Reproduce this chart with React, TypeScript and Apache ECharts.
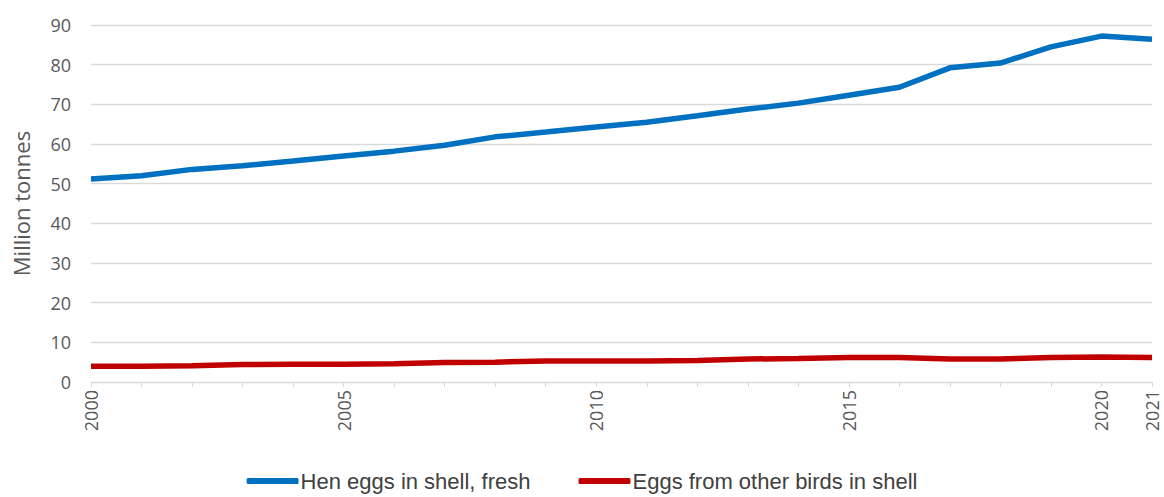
import React, { useEffect, useRef } from "react";
import * as echarts from "echarts";

const years = ["2000","2001","2002","2003","2004","2005","2006","2007","2008","2009","2010","2011","2012","2013","2014","2015","2016","2017","2018","2019","2020","2021"];
const henEggs = [51.2, 52.0, 53.6, 54.5, 55.7, 57.0, 58.2, 59.7, 61.8, 63.0, 64.3, 65.5, 67.1, 68.8, 70.3, 72.3, 74.3, 79.2, 80.4, 84.5, 87.2, 86.4];
const otherEggs = [4.0, 4.0, 4.1, 4.4, 4.5, 4.5, 4.6, 4.9, 5.0, 5.3, 5.3, 5.3, 5.4, 5.8, 5.9, 6.2, 6.2, 5.8, 5.8, 6.2, 6.3, 6.2];
const seriesNames = ["Hen eggs in shell, fresh", "Eggs from other birds in shell"];
const yTicks = { min: 0, max: 90, interval: 10 };

export default function App() {
  const ref = useRef<HTMLDivElement>(null);
  useEffect(() => {
    if (!ref.current) return;
    const chart = echarts.init(ref.current, undefined, { renderer: "svg" });
    const font = "Open Sans, sans-serif";
    chart.setOption({
      animation: false,
      grid: { left: 91, right: 12, top: 25, bottom: 115, containLabel: false },
      legend: {
        bottom: 0,
        left: "center",
        itemWidth: 52,
        itemHeight: 6,
        itemGap: 48,
        icon: "roundRect",
        textStyle: { fontFamily: "Liberation Sans Narrow, sans-serif", fontSize: 22, color: "#404040", padding: [0, 0, 0, -3] },
        data: seriesNames,
      },
      xAxis: {
        type: "category",
        data: years,
        boundaryGap: false,
        axisLine: { lineStyle: { color: "#d9d9d9", width: 1 } },
        axisTick: { show: true, interval: 0, length: 5, lineStyle: { color: "#d9d9d9" } },
        axisLabel: {
          rotate: 90,
          margin: 8,
          fontFamily: font,
          fontSize: 18,
          color: "#595959",
          interval: (idx: number, val: string) => Number(val) % 5 === 0 || idx === years.length - 1,
        },
        splitLine: { show: false },
      },
      yAxis: {
        type: "value",
        min: yTicks.min,
        max: yTicks.max,
        interval: yTicks.interval,
        name: "Million tonnes",
        nameLocation: "middle",
        nameRotate: 90,
        nameGap: 59,
        nameTextStyle: { fontFamily: font, fontSize: 22, color: "#595959" },
        axisLine: { show: false },
        axisTick: { show: false },
        axisLabel: { fontFamily: font, fontSize: 18, color: "#595959", margin: 20 },
        splitLine: { lineStyle: { color: "#d9d9d9", width: 1.3 } },
      },
      series: [
        {
          name: seriesNames[0],
          type: "line",
          data: henEggs,
          symbol: "none",
          lineStyle: { color: "#0070C0", width: 5.5 },
          itemStyle: { color: "#0070C0" },
        },
        {
          name: seriesNames[1],
          type: "line",
          data: otherEggs,
          symbol: "none",
          lineStyle: { color: "#C00000", width: 5.5 },
          itemStyle: { color: "#C00000" },
        },
      ],
    });
    return () => chart.dispose();
  }, []);
  return <div ref={ref} style={{ width: 1164, height: 497, position: "absolute", left: 0, top: 0 }} />;
}
